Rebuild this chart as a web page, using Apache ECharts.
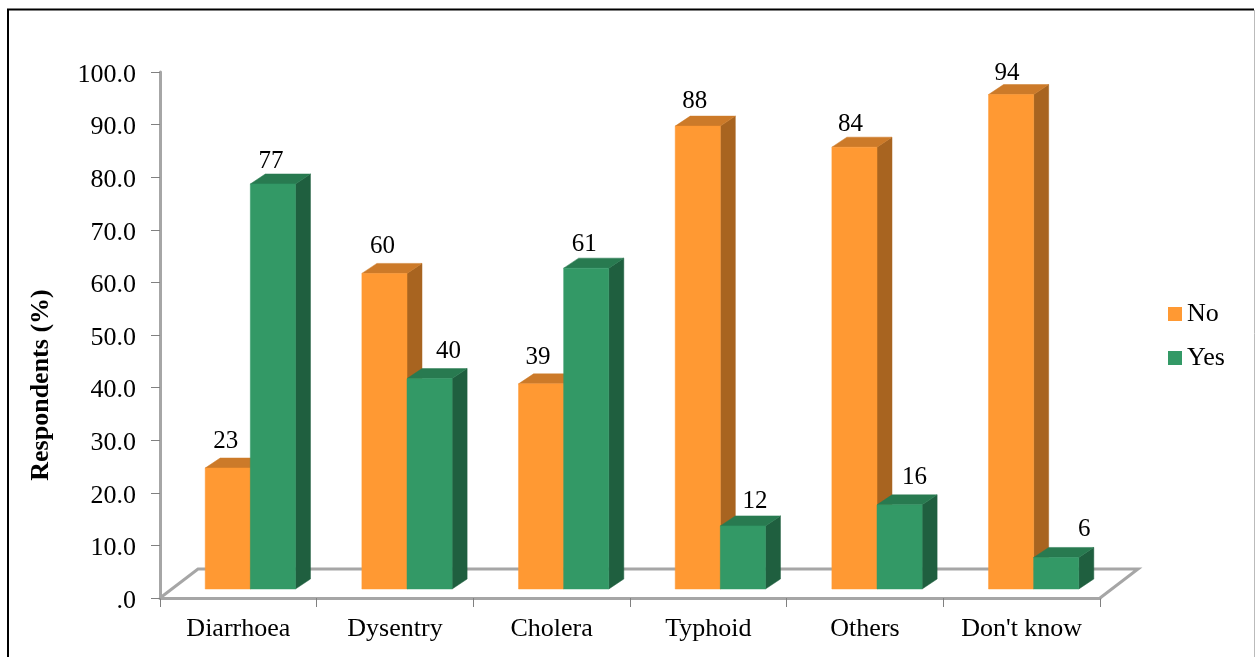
<!DOCTYPE html>
<html>
<head>
<meta charset="utf-8">
<style>html,body{margin:0;padding:0;background:#fff}#chart{width:1255px;height:657px}</style>
<script src="https://cdn.jsdelivr.net/npm/echarts@6/dist/echarts.min.js"></script>
</head>
<body>
<div id="chart"></div>
<script>
// Awareness of water-borne diseases, shown as pseudo-3D columns
const categories = ['Diarrhoea', 'Dysentry', 'Cholera', 'Typhoid', 'Others', "Don't know"];
const noValues = [23, 60, 39, 88, 84, 94];
const yesValues = [77, 40, 61, 12, 16, 6];

const SERIF = '"Liberation Serif", "Times New Roman", serif';
const GREY = '#a6a6a6';

// Oblique projection: how far the floor and the columns recede, in pixels
const FLOOR_DEPTH = [38, -29];
const COL_FRONT = [12, -9];
const COL_DEPTH = [15, -10];
const COL_WIDTH_RATIO = 0.288;

const NO_SHADES = { front: '#ff9933', top: '#cc7a29', side: '#a86420' };
const YES_SHADES = { front: '#339966', top: '#287a50', side: '#1f5f3f' };

// Hand placement of the value labels relative to each column's front face,
// so that short columns' labels clear the taller neighbour on their left
const NO_LABEL_SHIFT = [[-2, -27], [-2, -27], [-3, -26], [-3, -25], [-4, -23], [-4, -21]];
const YES_LABEL_SHIFT = [[-2, -23], [19, -27], [-2, -24], [12, -24], [15, -27], [28, -28]];

function columnRenderer(shades, side, labelShift) {
  return function (params, api) {
    const cat = api.value(0);
    const val = api.value(1);
    const top = api.coord([cat, val]);
    const base = api.coord([cat, 0]);
    const w = api.size([1, 0])[0] * COL_WIDTH_RATIO;
    const x0 = base[0] + COL_FRONT[0] + (side < 0 ? -w : 0);
    const x1 = x0 + w;
    const yb = base[1] + COL_FRONT[1];
    const yt = top[1] + COL_FRONT[1];
    const dx = COL_DEPTH[0];
    const dy = COL_DEPTH[1];
    const poly = (points, fill) => ({
      type: 'polygon',
      shape: { points },
      style: { fill, stroke: fill, lineWidth: 0.5 }
    });
    return {
      type: 'group',
      children: [
        poly([[x1, yt], [x1 + dx, yt + dy], [x1 + dx, yb + dy], [x1, yb]], shades.side),
        poly([[x0, yt], [x0 + dx, yt + dy], [x1 + dx, yt + dy], [x1, yt]], shades.top),
        poly([[x0, yt], [x1, yt], [x1, yb], [x0, yb]], shades.front),
        {
          type: 'text',
          style: {
            text: String(val),
            x: (x0 + x1) / 2 + labelShift[cat][0],
            y: yt + labelShift[cat][1],
            align: 'center',
            verticalAlign: 'middle',
            font: '25px ' + SERIF,
            fill: '#000'
          }
        }
      ]
    };
  };
}

function floorRenderer(params) {
  const c = params.coordSys;
  const xl = c.x, xr = c.x + c.width, yb = c.y + c.height;
  const bx = FLOOR_DEPTH[0], by = FLOOR_DEPTH[1];
  return {
    type: 'polyline',
    shape: { points: [[xl, yb], [xl + bx, yb + by], [xr + bx, yb + by], [xr, yb]] },
    style: { fill: null, stroke: GREY, lineWidth: 3 }
  };
}

const chart = echarts.init(document.getElementById('chart'), null, { renderer: 'canvas' });
chart.setOption({
  backgroundColor: '#fff',
  animation: false,
  graphic: [
    { type: 'polyline', shape: { points: [[8, 657], [8, 9.5], [1254, 9.5]] },
      style: { fill: null, stroke: '#000', lineWidth: 2 }, silent: true },
    { type: 'line', shape: { x1: 1254.5, y1: 10, x2: 1254.5, y2: 657 },
      style: { stroke: '#bbbbbb', lineWidth: 1 }, silent: true }
  ],
  grid: { left: 160, top: 72, width: 940, height: 526, containLabel: false },
  legend: {
    left: 1163,
    top: 296,
    orient: 'vertical',
    icon: 'rect',
    itemWidth: 14,
    itemHeight: 14,
    itemGap: 18,
    data: ['No', 'Yes'],
    textStyle: { fontFamily: SERIF, fontSize: 26, color: '#000' }
  },
  xAxis: {
    type: 'category',
    data: categories,
    axisLine: { lineStyle: { color: GREY, width: 3 } },
    axisTick: { show: true, interval: 0, alignWithLabel: false, length: 9, lineStyle: { color: '#808080', width: 1 } },
    axisLabel: { interval: 0, hideOverlap: false, fontFamily: SERIF, fontSize: 26, color: '#000', margin: 18 }
  },
  yAxis: {
    type: 'value',
    min: 0,
    max: 100,
    interval: 10,
    name: 'Respondents (%)',
    nameLocation: 'middle',
    nameGap: 106,
    nameTextStyle: { fontFamily: SERIF, fontSize: 26, fontWeight: 'bold', color: '#000', padding: [0, 100, 0, 0] },
    splitLine: { show: false },
    axisLine: { show: true, lineStyle: { color: GREY, width: 3 } },
    axisTick: { show: true, length: 9, lineStyle: { color: '#808080', width: 1 } },
    axisLabel: {
      fontFamily: SERIF,
      fontSize: 26,
      color: '#000',
      margin: 24,
      verticalAlign: 'top',
      lineHeight: 6,
      formatter: v => (v === 0 ? '.0' : v.toFixed(1))
    }
  },
  series: [
    {
      type: 'custom',
      name: 'floor',
      renderItem: floorRenderer,
      data: [0],
      silent: true,
      z: 1
    },
    {
      type: 'custom',
      name: 'No',
      itemStyle: { color: NO_SHADES.front },
      renderItem: columnRenderer(NO_SHADES, -1, NO_LABEL_SHIFT),
      encode: { x: 0, y: 1 },
      data: noValues.map((v, i) => [i, v]),
      z: 2
    },
    {
      type: 'custom',
      name: 'Yes',
      itemStyle: { color: YES_SHADES.front },
      renderItem: columnRenderer(YES_SHADES, 1, YES_LABEL_SHIFT),
      encode: { x: 0, y: 1 },
      data: yesValues.map((v, i) => [i, v]),
      z: 3
    }
  ]
});
</script>
</body>
</html>
